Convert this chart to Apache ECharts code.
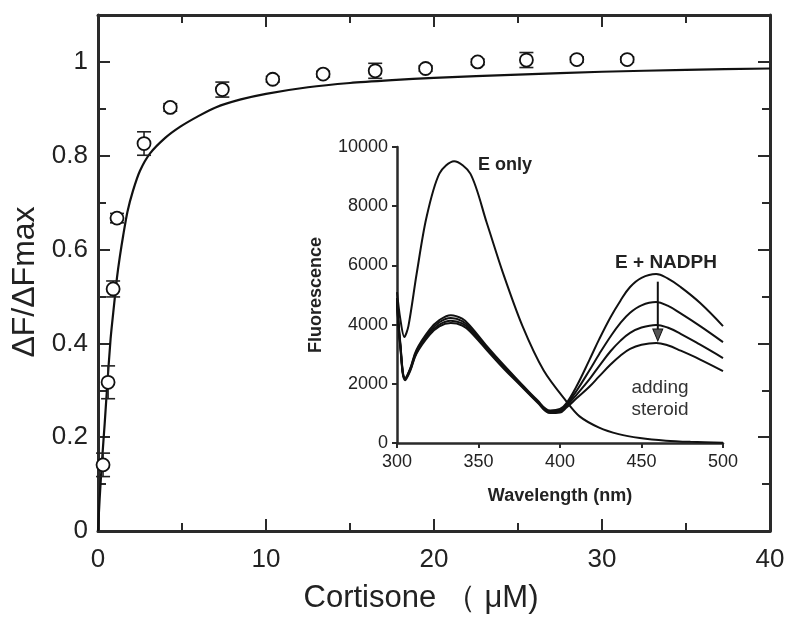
<!DOCTYPE html>
<html>
<head>
<meta charset="utf-8">
<script src="https://cdn.jsdelivr.net/npm/echarts@6/dist/echarts.min.js"></script>
<style>
html,body{margin:0;padding:0;background:#fff;}
#c{width:800px;height:623px;}
</style>
</head>
<body>
<div id="c"></div>
<script>
// ---- Main panel: binding data ----
const cortisone = [0.3, 0.6, 0.9, 1.13, 2.74, 4.3, 7.4, 10.4, 13.4, 16.5, 19.5, 22.6, 25.5, 28.5, 31.5];
const dFratio   = [0.141, 0.317, 0.516, 0.667, 0.826, 0.903, 0.941, 0.963, 0.974, 0.981, 0.986, 1.0, 1.004, 1.005, 1.005];
const dFerr     = [0.025, 0.035, 0.017, 0.01, 0.025, 0.008, 0.016, 0.006, 0.006, 0.016, 0.006, 0.006, 0.016, 0.006, 0.006];
// fitted curve
const fitX = [0, 0.1, 0.24, 0.4, 0.53, 0.75, 0.95, 1.13, 1.3, 1.5, 1.75, 2.08, 2.5, 3.1, 4.0, 4.9, 6.0, 7.0, 8.5, 10, 12.5, 15, 17.5, 20, 25, 30, 35, 40];
const fitY = [0, 0.07, 0.15, 0.23, 0.30, 0.41, 0.48, 0.54, 0.585, 0.63, 0.68, 0.725, 0.768, 0.805, 0.838, 0.862, 0.885, 0.903, 0.92, 0.932, 0.946, 0.955, 0.961, 0.966, 0.973, 0.979, 0.983, 0.986];
const mainXTicks = [0, 10, 20, 30, 40];
const mainYTicks = [0, 0.2, 0.4, 0.6, 0.8, 1];

// ---- Inset: fluorescence spectra ----
const wlEonly = [300, 302, 304.5, 307, 312, 318, 326, 335, 345, 355, 365, 377, 390, 404, 412, 424, 436, 449, 465, 480, 500];
const fEonly  = [5100, 4200, 3580, 3950, 5700, 7600, 9100, 9520, 9100, 7450, 5750, 3950, 2450, 1400, 900, 520, 300, 170, 80, 40, 10];
const wlNADPH = [300, 302, 305, 308, 312, 320, 326, 333, 340, 345, 357, 366, 374, 386, 394, 400, 404, 410, 418, 424, 431, 437, 443, 450, 459, 466, 474, 486, 500];
const fNADPH1 = [4900, 3400, 2200, 2500, 3150, 3830, 4150, 4320, 4200, 3950, 3150, 2600, 2130, 1450, 1100, 1150, 1350, 1900, 2800, 3500, 4250, 4800, 5270, 5580, 5710, 5560, 5270, 4730, 3950];
const fNADPH2 = [4850, 3350, 2180, 2480, 3100, 3760, 4080, 4220, 4120, 3880, 3100, 2560, 2100, 1420, 1070, 1100, 1300, 1750, 2450, 3000, 3600, 4050, 4400, 4650, 4760, 4640, 4380, 3950, 3410];
const fNADPH3 = [4800, 3300, 2150, 2450, 3060, 3700, 4000, 4130, 4040, 3820, 3060, 2520, 2070, 1400, 1040, 1060, 1250, 1620, 2150, 2600, 3100, 3450, 3720, 3900, 3990, 3900, 3690, 3320, 2870];
const fNADPH4 = [4750, 3250, 2120, 2420, 3020, 3650, 3940, 4050, 3970, 3760, 3020, 2480, 2040, 1380, 1010, 1030, 1200, 1500, 1900, 2250, 2650, 2950, 3180, 3320, 3380, 3300, 3120, 2820, 2430];
const arrowPts = [[460, 5450], [460, 3650]];
const insetXTicks = [300, 350, 400, 450, 500];
const insetYTicks = [0, 2000, 4000, 6000, 8000, 10000];

const FONT = '"Liberation Sans", Arial, Helvetica, sans-serif';
const AX = '#2a2a2a';

const zip = (a, b) => a.map((v, i) => [v, b[i]]);

const chart = echarts.init(document.getElementById('c'), null, {renderer: 'canvas'});

const mainAxisCommon = {
  axisLine: {show: true, onZero: false, lineStyle: {color: AX, width: 3}},
  axisTick: {show: true, inside: true, length: 12, lineStyle: {color: AX, width: 2}},
  minorTick: {show: true, splitNumber: 2, length: 8, lineStyle: {color: AX, width: 2}},
  splitLine: {show: false}
};

const insetSeries = [fNADPH1, fNADPH2, fNADPH3, fNADPH4].map(arr => ({
  type: 'line', xAxisIndex: 2, yAxisIndex: 2, data: zip(wlNADPH, arr),
  showSymbol: false, smooth: 0.4, lineStyle: {color: '#111', width: 2}, z: 3, silent: true
}));

const option = {
  animation: false,
  backgroundColor: '#fff',
  textStyle: {fontFamily: FONT},
  grid: [
    {left: 98, top: 15, width: 672, height: 516},
    {left: 397, top: 147, width: 326, height: 296}
  ],
  xAxis: [
    Object.assign({}, mainAxisCommon, {
      type: 'value', gridIndex: 0, position: 'bottom', min: 0, max: 40, interval: 10,
      axisLabel: {fontSize: 26, color: '#222', margin: 16, fontFamily: FONT,
        formatter: v => mainXTicks.includes(v) ? String(v) : ''},
      name: 'Cortisone \uFF08 \u03BCM)', nameLocation: 'middle', nameGap: 52,
      nameTextStyle: {fontSize: 31, color: '#222', fontFamily: FONT, padding: [0, 26, 0, 0]}
    }),
    Object.assign({}, mainAxisCommon, {
      type: 'value', gridIndex: 0, position: 'top', min: 0, max: 40, interval: 10,
      axisLabel: {show: false}
    }),
    {
      type: 'value', gridIndex: 1, min: 300, max: 500, interval: 50,
      axisLine: {show: true, onZero: false, lineStyle: {color: AX, width: 2.5}},
      axisTick: {show: true, inside: false, length: 5, lineStyle: {color: AX, width: 2}},
      splitLine: {show: false},
      axisLabel: {fontSize: 18, color: '#222', margin: 10, fontFamily: FONT,
        formatter: v => insetXTicks.includes(v) ? String(v) : ''},
      name: 'Wavelength (nm)', nameLocation: 'middle', nameGap: 44,
      nameTextStyle: {fontSize: 18, fontWeight: 'bold', color: '#222', fontFamily: FONT}
    }
  ],
  yAxis: [
    Object.assign({}, mainAxisCommon, {
      type: 'value', gridIndex: 0, position: 'left', min: 0, max: 1.1, interval: 0.2,
      axisLabel: {fontSize: 26, color: '#222', margin: 10, fontFamily: FONT, showMaxLabel: false,
        formatter: v => mainYTicks.some(t => Math.abs(t - v) < 1e-6) ? String(Math.round(v * 10) / 10) : ''},
      name: '\u0394F/\u0394Fmax', nameLocation: 'middle', nameGap: 55, nameRotate: 90,
      nameTextStyle: {fontSize: 32, color: '#222', fontFamily: FONT, padding: [0, 18, 0, 0]}
    }),
    Object.assign({}, mainAxisCommon, {
      type: 'value', gridIndex: 0, position: 'right', min: 0, max: 1.1, interval: 0.2,
      axisLabel: {show: false}
    }),
    {
      type: 'value', gridIndex: 1, min: 0, max: 10000, interval: 2000,
      axisLine: {show: true, onZero: false, lineStyle: {color: AX, width: 2.5}},
      axisTick: {show: true, inside: false, length: 5, lineStyle: {color: AX, width: 2}},
      splitLine: {show: false},
      axisLabel: {fontSize: 18, color: '#222', margin: 9, fontFamily: FONT,
        formatter: v => insetYTicks.includes(v) ? String(v) : ''},
      name: 'Fluorescence', nameLocation: 'middle', nameGap: 72, nameRotate: 90,
      nameTextStyle: {fontSize: 18, fontWeight: 'bold', color: '#222', fontFamily: FONT}
    }
  ],
  series: [
    {
      type: 'line', xAxisIndex: 0, yAxisIndex: 0, data: zip(fitX, fitY),
      showSymbol: false, smooth: 0.25, lineStyle: {color: '#111', width: 2.2}, z: 2, silent: true
    },
    {
      type: 'custom', xAxisIndex: 0, yAxisIndex: 0, z: 3, silent: true,
      data: cortisone.map((x, i) => [x, dFratio[i] - dFerr[i], dFratio[i] + dFerr[i]]),
      renderItem: function (params, api) {
        const x = api.value(0);
        const p1 = api.coord([x, api.value(1)]);
        const p2 = api.coord([x, api.value(2)]);
        const w = 7;
        const st = {stroke: '#222', lineWidth: 1.6};
        return {type: 'group', children: [
          {type: 'line', shape: {x1: p1[0], y1: p1[1], x2: p2[0], y2: p2[1]}, style: st},
          {type: 'line', shape: {x1: p1[0] - w, y1: p1[1], x2: p1[0] + w, y2: p1[1]}, style: st},
          {type: 'line', shape: {x1: p2[0] - w, y1: p2[1], x2: p2[0] + w, y2: p2[1]}, style: st}
        ]};
      }
    },
    {
      type: 'scatter', xAxisIndex: 0, yAxisIndex: 0, data: zip(cortisone, dFratio),
      symbol: 'circle', symbolSize: 13, z: 4, silent: true,
      itemStyle: {color: '#fff', borderColor: '#111', borderWidth: 1.8, opacity: 1}
    },
    {
      type: 'line', xAxisIndex: 2, yAxisIndex: 2, data: zip(wlEonly, fEonly),
      showSymbol: false, smooth: 0.3, lineStyle: {color: '#111', width: 2}, z: 3, silent: true
    },
    ...insetSeries,
    {
      type: 'line', xAxisIndex: 2, yAxisIndex: 2, z: 5, silent: true,
      data: [
        {value: arrowPts[0], symbol: 'none'},
        {value: arrowPts[1], symbol: 'triangle', symbolSize: [10, 12], symbolRotate: 180}
      ],
      showSymbol: true, showAllSymbol: true,
      lineStyle: {color: '#111', width: 2},
      itemStyle: {color: '#555', borderColor: '#111', borderWidth: 1, opacity: 1}
    }
  ],
  graphic: [
    {type: 'text', x: 505, y: 165, style: {text: 'E only', align: 'center', verticalAlign: 'middle', font: 'bold 18px ' + FONT, fill: '#222'}},
    {type: 'text', x: 666, y: 263, style: {text: 'E + NADPH', align: 'center', verticalAlign: 'middle', font: 'bold 19px ' + FONT, fill: '#222'}},
    {type: 'text', x: 660, y: 388, style: {text: 'adding', align: 'center', verticalAlign: 'middle', font: '19px ' + FONT, fill: '#333'}},
    {type: 'text', x: 660, y: 410, style: {text: 'steroid', align: 'center', verticalAlign: 'middle', font: '19px ' + FONT, fill: '#333'}}
  ]
};
chart.setOption(option);
</script>
</body>
</html>
